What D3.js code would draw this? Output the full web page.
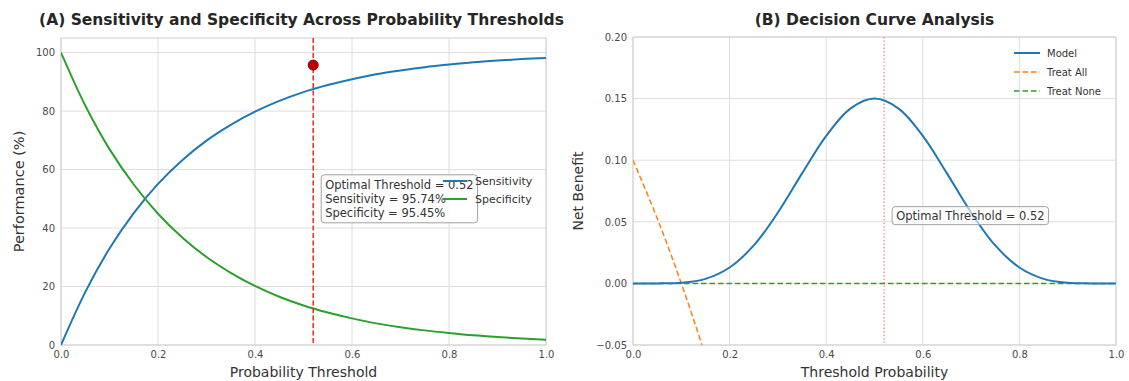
<!DOCTYPE html>
<html>
<head>
<meta charset="utf-8">
<script src="https://cdn.jsdelivr.net/npm/d3@7/dist/d3.min.js"></script>
<style>
  body { margin: 0; background: #fff; }
  text { font-family: "DejaVu Sans", sans-serif; }
</style>
</head>
<body>
<div id="chart"></div>
<script>
// values
const thresholds = [0, 0.05, 0.10, 0.15, 0.20, 0.25, 0.30, 0.35, 0.40, 0.45, 0.50,
                    0.55, 0.60, 0.65, 0.70, 0.75, 0.80, 0.85, 0.90, 0.95, 1.00];
const sensitivity = [0, 18.1, 33.0, 45.1, 55.1, 63.2, 69.9, 75.3, 79.8, 83.5, 86.5,
                     88.9, 90.9, 92.6, 93.9, 95.0, 95.9, 96.7, 97.3, 97.8, 98.2];
const specificity = [100, 81.9, 67.0, 54.9, 44.9, 36.8, 30.1, 24.7, 20.2, 16.5, 13.5,
                     11.1, 9.1, 7.4, 6.1, 5.0, 4.1, 3.3, 2.7, 2.2, 1.8];
const modelNB = [0.0000, 0.0000, 0.0005, 0.0037, 0.0129, 0.0308, 0.0575, 0.0893, 0.1198, 0.1419, 0.1500,
                 0.1419, 0.1198, 0.0893, 0.0575, 0.0308, 0.0129, 0.0037, 0.0005, 0.0000, 0.0000];
const treatAllX = [0, 0.05, 0.10, 0.15, 0.20];
const treatAllNB = [0.100, 0.053, 0.000, -0.059, -0.125];
const treatNoneNB = [0, 0, 0, 0, 0, 0, 0, 0, 0, 0, 0, 0, 0, 0, 0, 0, 0, 0, 0, 0, 0];

const optThreshold = 0.52;
const optSens = 95.74;
const optSpec = 95.45;

const xTicks = [0, 0.2, 0.4, 0.6, 0.8, 1.0];
const perfTicks = [0, 20, 40, 60, 80, 100];
const nbTicks = [-0.05, 0, 0.05, 0.10, 0.15, 0.20];

const legendA = ["Sensitivity", "Specificity"];
const legendB = ["Model", "Treat All", "Treat None"];

const blue = "#1f77b4", green = "#2ca02c", orange = "#ff7f0e";
const gridColor = "#dedede", tickColor = "#4a4a4a", titleColor = "#262626";

const width = 1129, height = 381;
const svg = d3.select("#chart").append("svg")
    .attr("width", width)
    .attr("height", height);

function panel(id, left, right, top, bottom, yDomain, yTicks, yFmt) {
    const x = d3.scaleLinear().domain([0, 1]).range([left, right]);
    const y = d3.scaleLinear().domain(yDomain).range([bottom, top]);
    const g = svg.append("g");

    g.append("clipPath").attr("id", id)
      .append("rect").attr("x", left).attr("y", top)
      .attr("width", right - left).attr("height", bottom - top);

    g.selectAll(".gx").data(xTicks).enter().append("line")
        .attr("x1", d => x(d)).attr("x2", d => x(d))
        .attr("y1", top).attr("y2", bottom)
        .attr("stroke", gridColor);
    g.selectAll(".gy").data(yTicks).enter().append("line")
        .attr("x1", left).attr("x2", right)
        .attr("y1", d => y(d)).attr("y2", d => y(d))
        .attr("stroke", gridColor);
    g.append("rect")
        .attr("x", left).attr("y", top)
        .attr("width", right - left).attr("height", bottom - top)
        .attr("fill", "none").attr("stroke", "#d0d0d0");

    const xAxis = d3.axisBottom(x).tickValues(xTicks).tickFormat(d3.format(".1f")).tickSize(0).tickPadding(6);
    g.append("g").attr("transform", `translate(0,${bottom})`).call(xAxis)
        .call(a => a.select(".domain").remove())
        .selectAll("text").attr("font-size", 10).attr("fill", tickColor)
        .attr("font-family", "DejaVu Sans");
    const yAxis = d3.axisLeft(y).tickValues(yTicks).tickFormat(yFmt).tickSize(0).tickPadding(6);
    g.append("g").attr("transform", `translate(${left},0)`).call(yAxis)
        .call(a => a.select(".domain").remove())
        .selectAll("text").attr("font-size", 10).attr("fill", tickColor)
        .attr("font-family", "DejaVu Sans");

    const plot = g.append("g").attr("clip-path", `url(#${id})`);
    return {x, y, g, plot};
}

// ---- (A) sensitivity / specificity
const A = panel("clipA", 61, 546, 38, 345, [0, 105], perfTicks, d3.format("d"));

const lineA = vals => d3.line()
    .x((d, i) => A.x(thresholds[i]))
    .y(d => A.y(d))
    .curve(d3.curveCatmullRom)(vals);

A.plot.append("path").attr("d", lineA(sensitivity))
    .attr("fill", "none").attr("stroke", blue).attr("stroke-width", 2);
A.plot.append("path").attr("d", lineA(specificity))
    .attr("fill", "none").attr("stroke", green).attr("stroke-width", 2);

A.plot.append("line")
    .attr("x1", A.x(optThreshold)).attr("x2", A.x(optThreshold))
    .attr("y1", A.y(105)).attr("y2", A.y(0))
    .attr("stroke", "#ff2020").attr("stroke-width", 1.5)
    .attr("stroke-dasharray", "5,2.5");

A.plot.append("circle")
    .attr("cx", A.x(optThreshold)).attr("cy", A.y(optSens))
    .attr("r", 5).attr("fill", "#c00000").attr("stroke", "#8b0000");

const noteA = A.g.append("g");
const noteLines = [`Optimal Threshold = ${optThreshold}`,
                   `Sensitivity = ${optSens}%`,
                   `Specificity = ${optSpec}%`];
const noteText = noteA.append("text")
    .attr("x", A.x(optThreshold) + 12)
    .attr("y", A.y(50) - 10)
    .attr("font-size", 11.5).attr("fill", "#333");
noteText.selectAll("tspan").data(noteLines).enter().append("tspan")
    .attr("x", A.x(optThreshold) + 12)
    .attr("dy", (d, i) => i === 0 ? 0 : 14)
    .text(d => d);
const bbA = noteText.node().getBBox();
noteA.insert("rect", "text")
    .attr("x", bbA.x - 4).attr("y", bbA.y - 3)
    .attr("width", bbA.width + 8).attr("height", bbA.height + 6)
    .attr("rx", 3)
    .attr("fill", "#fff").attr("fill-opacity", 0.85)
    .attr("stroke", "#a0a0a0");

const legA = A.g.append("g");
legA.selectAll("line").data(legendA).enter().append("line")
    .attr("x1", 443).attr("x2", 467)
    .attr("y1", (d, i) => 181 + i * 18).attr("y2", (d, i) => 181 + i * 18)
    .attr("stroke", (d, i) => i === 0 ? blue : green).attr("stroke-width", 2);
legA.selectAll("text").data(legendA).enter().append("text")
    .attr("x", 475).attr("y", (d, i) => 181 + i * 18)
    .attr("dy", "0.35em").attr("font-size", 11).attr("fill", "#333")
    .text(d => d);

A.g.append("text")
    .attr("x", (61 + 546) / 2 - 2).attr("y", 25)
    .attr("text-anchor", "middle").attr("font-size", 15.5).attr("font-weight", "bold")
    .attr("fill", titleColor)
    .text("(A) Sensitivity and Specificity Across Probability Thresholds");
A.g.append("text")
    .attr("x", (61 + 546) / 2).attr("y", 377)
    .attr("text-anchor", "middle").attr("font-size", 14).attr("fill", "#333")
    .text("Probability Threshold");
A.g.append("text")
    .attr("transform", `translate(24,${(38 + 345) / 2}) rotate(-90)`)
    .attr("text-anchor", "middle").attr("font-size", 14.5).attr("fill", "#333")
    .text("Performance (%)");

// ---- (B) decision curve
const B = panel("clipB", 633, 1116, 37, 345, [-0.05, 0.20], nbTicks,
    d => d3.format(".2f")(d).replace("-", "\u2212"));

const lineB = (xs, vals) => d3.line()
    .x((d, i) => B.x(xs[i]))
    .y(d => B.y(d))
    .curve(d3.curveCatmullRom)(vals);

B.plot.append("path").attr("d", lineB(treatAllX, treatAllNB))
    .attr("fill", "none").attr("stroke", orange).attr("stroke-width", 1.5)
    .attr("stroke-dasharray", "5.5,3");
B.plot.append("path").attr("d", lineB(thresholds, treatNoneNB))
    .attr("fill", "none").attr("stroke", green).attr("stroke-width", 1.5)
    .attr("stroke-dasharray", "5.5,3");
B.plot.append("line")
    .attr("x1", B.x(optThreshold)).attr("x2", B.x(optThreshold))
    .attr("y1", B.y(0.20)).attr("y2", B.y(-0.05))
    .attr("stroke", "#e03040").attr("stroke-width", 1.2).attr("stroke-opacity", 0.6)
    .attr("stroke-dasharray", "1.5,2");

const noteB = B.g.append("g");
const noteBText = noteB.append("text")
    .attr("x", B.x(optThreshold) + 12).attr("y", B.y(0.055))
    .attr("dy", "0.35em").attr("font-size", 11.5).attr("fill", "#333")
    .text(`Optimal Threshold = ${optThreshold}`);
const bbB = noteBText.node().getBBox();
noteB.insert("rect", "text")
    .attr("x", bbB.x - 4).attr("y", bbB.y - 2)
    .attr("width", bbB.width + 8).attr("height", bbB.height + 4)
    .attr("rx", 3)
    .attr("fill", "#fff").attr("fill-opacity", 0.6)
    .attr("stroke", "#a0a0a0");

B.plot.append("path").attr("d", lineB(thresholds, modelNB))
    .attr("fill", "none").attr("stroke", blue).attr("stroke-width", 2);

const legB = B.g.append("g");
const legStyle = [
    {color: blue, dash: null},
    {color: orange, dash: "5.5,3"},
    {color: green, dash: "5.5,3"}
];
legB.selectAll("line").data(legendB).enter().append("line")
    .attr("x1", 1014).attr("x2", 1040)
    .attr("y1", (d, i) => 53 + i * 19).attr("y2", (d, i) => 53 + i * 19)
    .attr("stroke", (d, i) => legStyle[i].color)
    .attr("stroke-width", (d, i) => i === 0 ? 2 : 1.5)
    .attr("stroke-dasharray", (d, i) => legStyle[i].dash);
legB.selectAll("text").data(legendB).enter().append("text")
    .attr("x", 1047).attr("y", (d, i) => 53 + i * 19)
    .attr("dy", "0.35em").attr("font-size", 10).attr("fill", "#333")
    .text(d => d);

B.g.append("text")
    .attr("x", (633 + 1116) / 2).attr("y", 25)
    .attr("text-anchor", "middle").attr("font-size", 15.5).attr("font-weight", "bold")
    .attr("fill", titleColor)
    .text("(B) Decision Curve Analysis");
B.g.append("text")
    .attr("x", (633 + 1116) / 2).attr("y", 377)
    .attr("text-anchor", "middle").attr("font-size", 14).attr("fill", "#333")
    .text("Threshold Probability");
B.g.append("text")
    .attr("transform", `translate(583,${(37 + 345) / 2}) rotate(-90)`)
    .attr("text-anchor", "middle").attr("font-size", 14).attr("fill", "#333")
    .text("Net Benefit");
</script>
</body>
</html>
